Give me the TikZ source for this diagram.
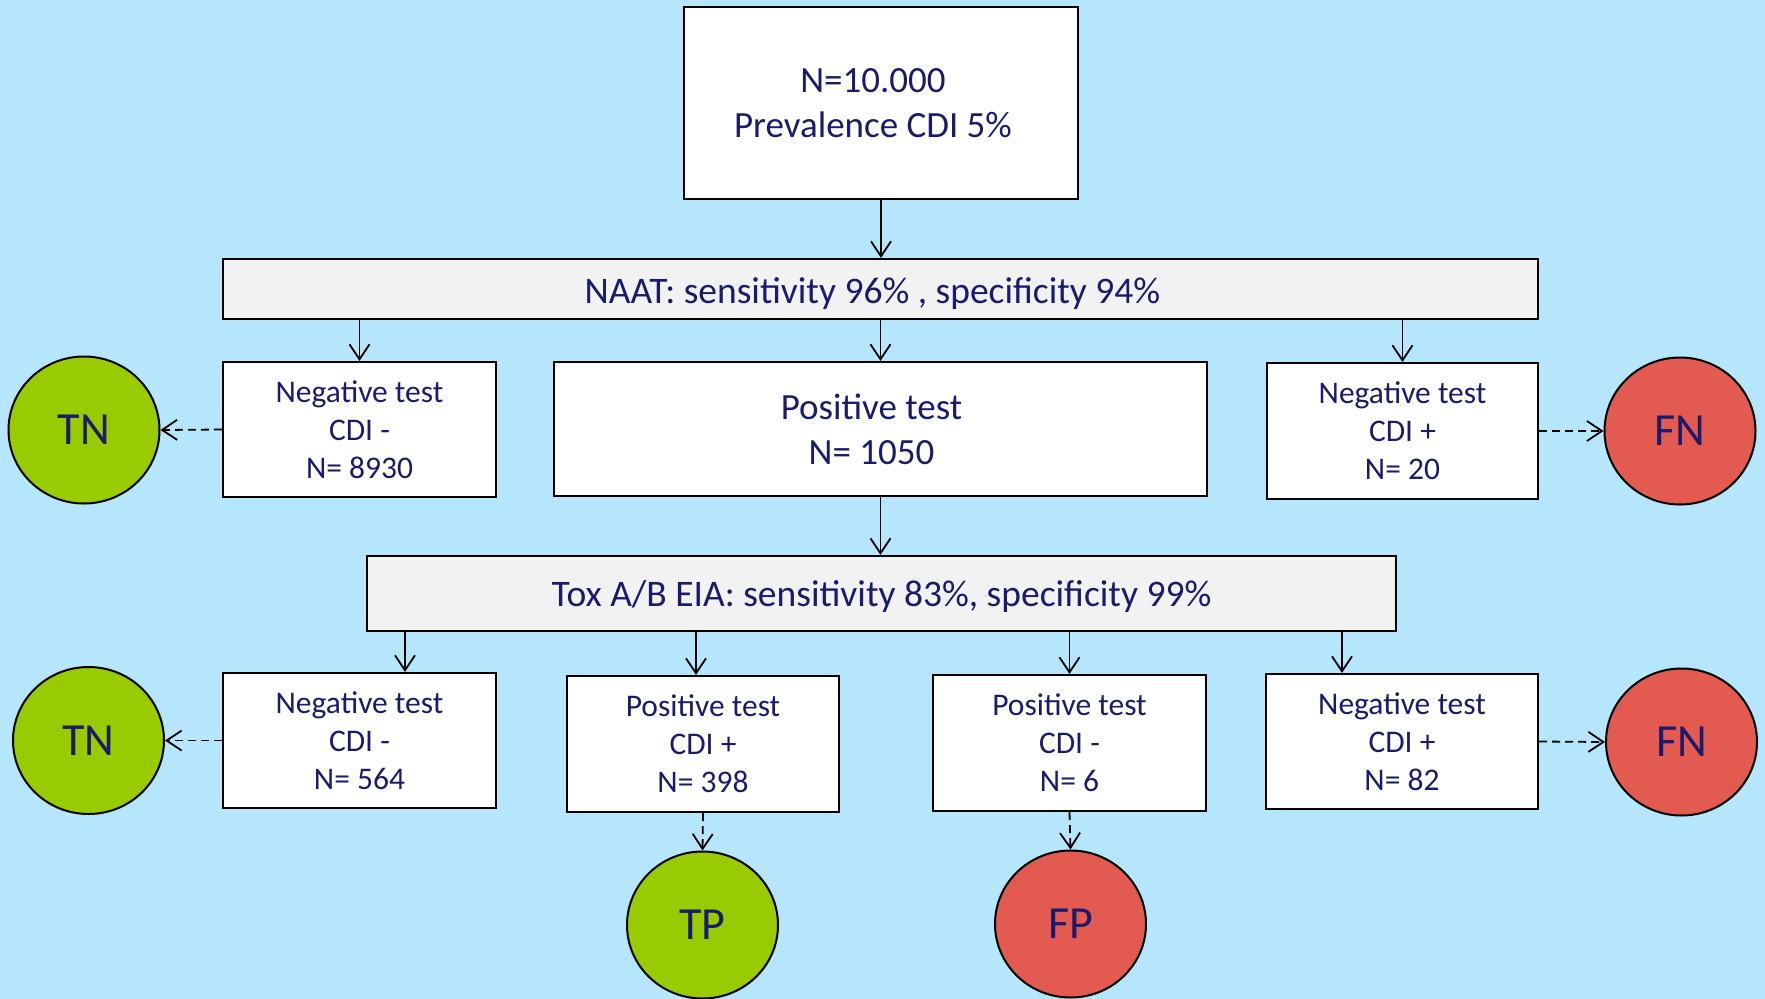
\documentclass[tikz,border=0pt]{standalone}
\usepackage{fontspec}
\setmainfont{Carlito}
\usetikzlibrary{arrows.meta,shapes.geometric}
\definecolor{bgblue}{HTML}{B5E6FC}
\definecolor{navytext}{HTML}{1B1B6B}
\definecolor{okgreen}{HTML}{99CC00}
\definecolor{badred}{HTML}{E35B50}
\definecolor{bargrey}{HTML}{F2F2F2}
\tikzset{
  box/.style={draw=black, line width=2.2pt, fill=white, rectangle, inner sep=0pt, align=center, text=navytext},
  bigtxt/.style={font=\fontsize{37}{45}\selectfont, text=navytext, align=center},
  smalltxt/.style={font=\fontsize{31.5}{38}\selectfont},
  bar/.style={box, fill=bargrey},
  bartxt/.style={font=\fontsize{37.5}{42}\selectfont, text=navytext, text depth=0pt},
  result/.style={draw=black, line width=2pt, ellipse, inner sep=0pt, text=navytext, font=\fontsize{46}{50}\selectfont, minimum width=151pt, minimum height=147pt},
  good/.style={result, fill=okgreen},
  bad/.style={result, fill=badred},
  arr/.style={line width=1.8pt, -{Straight Barb[length=15pt,width=20pt,line width=1.8pt]}},
  darr/.style={arr, dash pattern=on 8pt off 5pt}
}
\begin{document}
\begin{tikzpicture}[x=1pt,y=-1pt]
\fill[bgblue] (0,0) rectangle (1765,999);
\useasboundingbox (0,0) rectangle (1765,999);

\node[box,minimum width=394pt,minimum height=192pt,
  label={[bigtxt,xshift=-8pt]center:N=10.000\\Prevalence CDI 5\%}] (top) at (881,103) {};
\node[bar,minimum width=1315pt,minimum height=60pt,
  label={[bartxt,xshift=-8pt,yshift=-2pt]center:NAAT: sensitivity 96\% , specificity 94\%}] (naat) at (880.5,289) {};

\node[box,smalltxt,minimum width=273pt,minimum height=135pt] (neg1) at (359.5,429.5) {Negative test\\CDI -\\N= 8930};
\node[box,minimum width=653pt,minimum height=134pt,
  label={[bigtxt,xshift=-9pt]center:Positive test\\N= 1050}] (pos1) at (880.5,429) {};
\node[box,smalltxt,minimum width=271pt,minimum height=136pt] (negp1) at (1402.5,431) {Negative test\\CDI +\\N= 20};
\node[good] (tn1) at (84,430) {TN};
\node[bad] (fn1) at (1680,431) {FN};

\node[bar,minimum width=1029pt,minimum height=75pt,
  label={[bartxt]center:Tox A/B EIA: sensitivity 83\%, specificity 99\%}] (tox) at (881.5,593.5) {};

\node[box,smalltxt,minimum width=273pt,minimum height=135pt] (neg2) at (359.5,740.5) {Negative test\\CDI -\\N= 564};
\node[box,smalltxt,minimum width=272pt,minimum height=136pt] (pos2) at (703,744) {Positive test\\CDI +\\N= 398};
\node[box,smalltxt,minimum width=273pt,minimum height=136pt] (posm2) at (1069.5,743) {Positive test\\CDI -\\N= 6};
\node[box,smalltxt,minimum width=272pt,minimum height=135pt] (negp2) at (1402,741.5) {Negative test\\CDI +\\N= 82};
\node[good] (tn2) at (88.5,740.5) {TN};
\node[bad] (fn2) at (1681.5,742) {FN};
\node[good] (tp) at (702.5,925) {TP};
\node[bad] (fp) at (1070.5,924) {FP};

\draw[arr] (top.south) -- (naat.north -| top.south);
\draw[arr] (naat.south -| neg1.north) -- (neg1.north);
\draw[arr] (naat.south -| pos1.north) -- (pos1.north);
\draw[arr] (naat.south -| negp1.north) -- (negp1.north);
\draw[arr] (pos1.south) -- (tox.north -| pos1.south);

\draw[arr] ([xshift=45.5pt]neg2.north |- tox.south) -- ([xshift=45.5pt]neg2.north);
\draw[arr] ([xshift=-7pt]pos2.north |- tox.south) -- ([xshift=-7pt]pos2.north);
\draw[arr] (posm2.north |- tox.south) -- (posm2.north);
\draw[arr] ([xshift=-60pt]negp2.north |- tox.south) -- ([xshift=-60pt]negp2.north);

\draw[darr] (neg1.west) -- (tn1.east);
\draw[darr] (negp1.east) -- (fn1.west);
\draw[darr] (neg2.west) -- (tn2.east);
\draw[darr] (negp2.east) -- (fn2.west);
\draw[darr] (pos2.south) -- (tp.north);
\draw[darr] (posm2.south) -- (fp.north);
\end{tikzpicture}
\end{document}
